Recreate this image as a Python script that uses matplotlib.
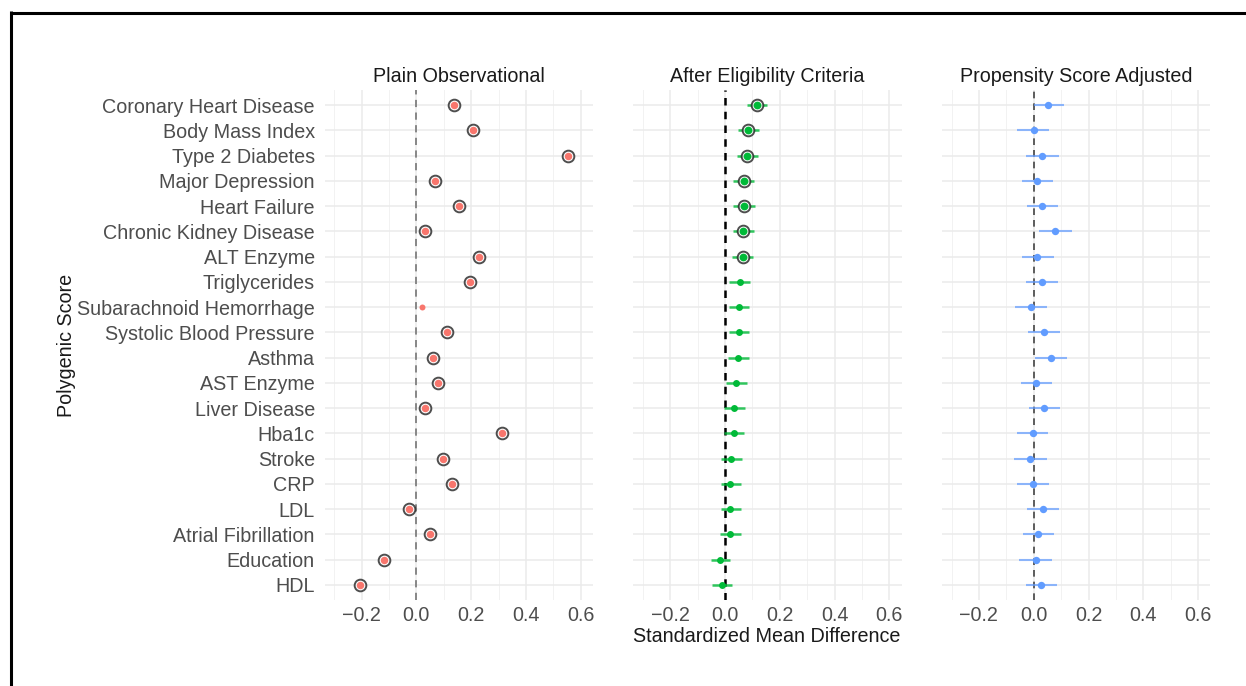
import numpy as np
import matplotlib.pyplot as plt
from matplotlib.lines import Line2D

# ==================================================
# Data
# ==================================================

scores = [
    "Coronary Heart Disease", "Body Mass Index", "Type 2 Diabetes",
    "Major Depression", "Heart Failure", "Chronic Kidney Disease",
    "ALT Enzyme", "Triglycerides", "Subarachnoid Hemorrhage",
    "Systolic Blood Pressure", "Asthma", "AST Enzyme", "Liver Disease",
    "Hba1c", "Stroke", "CRP", "LDL", "Atrial Fibrillation", "Education", "HDL",
]

plain_smd = [0.136, 0.206, 0.555, 0.069, 0.156, 0.032, 0.229, 0.195, 0.022, 0.112,
             0.060, 0.080, 0.031, 0.312, 0.096, 0.130, -0.025, 0.050, -0.119, -0.204]
plain_sig = [1, 1, 1, 1, 1, 1, 1, 1, 0, 1, 1, 1, 1, 1, 1, 1, 1, 1, 1, 1]

elig_smd = [0.117, 0.085, 0.080, 0.068, 0.068, 0.067, 0.065, 0.055, 0.052, 0.051,
            0.049, 0.040, 0.034, 0.033, 0.022, 0.019, 0.019, 0.019, -0.017, -0.012]
elig_lo = [0.081, 0.047, 0.043, 0.030, 0.030, 0.030, 0.027, 0.016, 0.016, 0.014,
           0.012, 0.003, -0.003, -0.004, -0.016, -0.016, -0.016, -0.017, -0.052, -0.049]
elig_hi = [0.152, 0.123, 0.122, 0.106, 0.108, 0.106, 0.103, 0.092, 0.088, 0.088,
           0.088, 0.081, 0.072, 0.071, 0.062, 0.057, 0.057, 0.058, 0.018, 0.024]
elig_sig = [1, 1, 1, 1, 1, 1, 1, 0, 0, 0, 0, 0, 0, 0, 0, 0, 0, 0, 0, 0]

ps_smd = [0.053, 0.000, 0.032, 0.013, 0.032, 0.078, 0.012, 0.029, -0.010, 0.036,
          0.062, 0.008, 0.039, -0.001, -0.012, -0.001, 0.034, 0.016, 0.007, 0.027]
ps_lo = [0.002, -0.060, -0.029, -0.044, -0.026, 0.021, -0.044, -0.029, -0.067, -0.022,
         0.006, -0.047, -0.017, -0.060, -0.071, -0.060, -0.026, -0.040, -0.052, -0.029]
ps_hi = [0.112, 0.057, 0.091, 0.070, 0.089, 0.139, 0.074, 0.089, 0.047, 0.096,
         0.120, 0.066, 0.096, 0.053, 0.047, 0.057, 0.091, 0.074, 0.066, 0.085]

panel_titles = ["Plain Observational", "After Eligibility Criteria", "Propensity Score Adjusted"]
x_ticks = [-0.2, 0.0, 0.2, 0.4, 0.6]
x_ticklabels = ["\u22120.2", "0.0", "0.2", "0.4", "0.6"]

# ==================================================
# Style
# ==================================================

W, H = 1246, 686
FS = 14.2
TXT = "#4D4D4D"
RED, GREEN, BLUE = "#F8766D", "#00BA38", "#619CFF"
plt.rcParams["font.family"] = ["Liberation Sans", "DejaVu Sans"]

fig = plt.figure(figsize=(W / 100, H / 100), dpi=100)

XLIM = (-0.335, 0.645)
px_per_unit = 274
panel_w = (XLIM[1] - XLIM[0]) * px_per_unit
zero_px = [416.3, 725.0, 1033.7]
top_px, bot_px = 90, 600

y = np.arange(len(scores))[::-1] + 1.0


def style_axis(ax, title, show_y):
    ax.set_xlim(*XLIM)
    ax.set_ylim(0.4, len(scores) + 0.6)
    ax.set_xticks(x_ticks)
    ax.set_xticklabels(x_ticklabels)
    ax.set_xticks([-0.3, -0.1, 0.1, 0.3, 0.5], minor=True)
    ax.set_yticks(y)
    if show_y:
        ax.set_yticklabels(scores)
    else:
        ax.set_yticklabels([])
    ax.tick_params(axis="both", which="both", length=0, labelsize=FS, labelcolor=TXT)
    ax.tick_params(axis="x", pad=4)
    ax.tick_params(axis="y", pad=7)
    ax.grid(True, which="major", color="#EBEBEB", lw=1.1)
    ax.grid(True, which="minor", axis="x", color="#F2F2F2", lw=0.7)
    ax.set_axisbelow(True)
    for s in ax.spines.values():
        s.set_visible(False)
    ax.set_title(title, fontsize=FS, color="#1A1A1A", pad=6)


axes = []
for i in range(3):
    left = zero_px[i] + XLIM[0] * px_per_unit
    ax = fig.add_axes([left / W, (H - bot_px) / H, panel_w / W, (bot_px - top_px) / H])
    style_axis(ax, panel_titles[i], i == 0)
    axes.append(ax)

# ---------- Panel 1: plain observational ----------
ax = axes[0]
ax.axvline(0, color="#7F7F7F", lw=1.3, ls=(0, (4, 3)), zorder=1)
for xi, yi, sig in zip(plain_smd, y, plain_sig):
    if sig:
        ax.plot(xi, yi, "o", ms=8.4, mfc="white", mec="#222222", mew=1.4, alpha=0.8, zorder=3)
        ax.plot(xi, yi, "o", ms=5.4, color=RED, mew=0, zorder=4)
    else:
        ax.plot(xi, yi, "o", ms=4.3, color=RED, mew=0, zorder=4)

# ---------- Panel 2: after eligibility criteria ----------
ax = axes[1]
ax.axvline(0, color="black", lw=1.8, ls=(0, (3, 2.5)), zorder=1)
ax.hlines(y, elig_lo, elig_hi, color=GREEN, lw=1.8, alpha=0.8, zorder=2)
for xi, yi, sig in zip(elig_smd, y, elig_sig):
    if sig:
        ax.plot(xi, yi, "o", ms=8.4, mfc="white", mec="#222222", mew=1.4, alpha=0.8, zorder=3)
        ax.plot(xi, yi, "o", ms=5.6, color=GREEN, mew=0, zorder=4)
    else:
        ax.plot(xi, yi, "o", ms=5.0, color=GREEN, mew=0, zorder=4)

# ---------- Panel 3: propensity score adjusted ----------
ax = axes[2]
ax.axvline(0, color="#444444", lw=1.2, ls=(0, (4, 3)), zorder=1)
ax.hlines(y, ps_lo, ps_hi, color=BLUE, lw=1.5, alpha=0.7, zorder=2)
ax.plot(ps_smd, y, "o", ms=5.3, color=BLUE, mew=0, zorder=4)

# ---------- Axis titles ----------
fig.text(66 / W, 1 - 345 / H, "Polygenic Score", rotation=90, fontsize=FS,
         color="#1A1A1A", ha="center", va="center")
fig.text(767 / W, 1 - 636 / H, "Standardized Mean Difference", fontsize=FS,
         color="#1A1A1A", ha="center", va="center")

# ---------- Frame border (top and left) ----------
fig.add_artist(Line2D([10.5 / W, 1], [1 - 12.5 / H, 1 - 12.5 / H], color="black", lw=2.2,
                      transform=fig.transFigure, solid_capstyle="butt"))
fig.add_artist(Line2D([10.5 / W, 10.5 / W], [0, 1 - 11 / H], color="black", lw=2.2,
                      transform=fig.transFigure, solid_capstyle="butt"))

fig.savefig("out.png", dpi=100)
